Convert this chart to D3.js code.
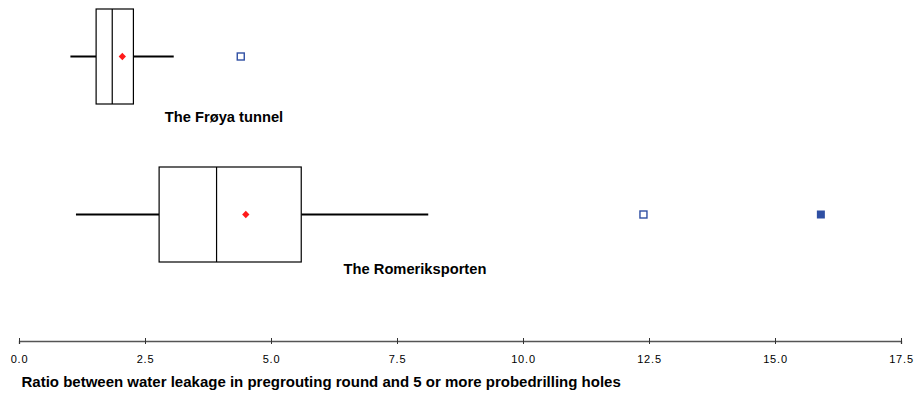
<!DOCTYPE html>
<html><head><meta charset="utf-8">
<script src="https://cdn.jsdelivr.net/npm/d3@7"></script>
<style>body{margin:0;background:#fff;} text{font-family:Arial,"Liberation Sans",sans-serif;}</style>
</head><body>
<svg id="c" width="915" height="394"></svg>
<script>
const categories = ["The Frøya tunnel", "The Romeriksporten"];
const whiskerLow = [1.02, 1.13];
const q1 = [1.53, 2.78];
const median = [1.85, 3.92];
const q3 = [2.27, 5.60];
const whiskerHigh = [3.07, 8.12];
const mean = [2.05, 4.50];
const outliersMild = [[4.40], [12.39]];
const outliersExtreme = [[], [15.91]];
const tickValues = [0, 2.5, 5, 7.5, 10, 12.5, 15, 17.5];
const axisTitle = "Ratio between water leakage in pregrouting round and 5 or more probedrilling holes";

const svg = d3.select("#c");
const x = d3.scaleLinear().domain([0, 17.5]).range([19, 901]);
const y = d3.scalePoint().domain(categories).range([56.5, 214.5]);
const boxH = 95;

const data = categories.map((c, i) => ({c, lo: whiskerLow[i], q1: q1[i], med: median[i], q3: q3[i], hi: whiskerHigh[i], mean: mean[i], mild: outliersMild[i], ext: outliersExtreme[i]}));

const g = svg.append("g");
const grp = g.selectAll("g.box").data(data).join("g").attr("class", "box");

grp.append("line").attr("x1", d => x(d.lo)).attr("x2", d => x(d.q1))
  .attr("y1", d => y(d.c)).attr("y2", d => y(d.c)).attr("stroke", "#000").attr("stroke-width", 2);
grp.append("line").attr("x1", d => x(d.q3)).attr("x2", d => x(d.hi))
  .attr("y1", d => y(d.c)).attr("y2", d => y(d.c)).attr("stroke", "#000").attr("stroke-width", 2);
grp.append("rect").attr("x", d => x(d.q1)).attr("width", d => x(d.q3) - x(d.q1))
  .attr("y", d => y(d.c) - boxH / 2).attr("height", boxH)
  .attr("fill", "#fff").attr("stroke", "#000").attr("stroke-width", 1.2);
grp.append("line").attr("x1", d => x(d.med)).attr("x2", d => x(d.med))
  .attr("y1", d => y(d.c) - boxH / 2).attr("y2", d => y(d.c) + boxH / 2)
  .attr("stroke", "#000").attr("stroke-width", 1.2);
grp.append("path")
  .attr("d", d3.symbol(d3.symbolDiamond2, 34))
  .attr("transform", d => `translate(${x(d.mean)},${y(d.c)})`)
  .attr("fill", "#ff1a1a");

grp.each(function(d) {
  const s = d3.select(this);
  s.selectAll("rect.mild").data(d.mild).join("rect").attr("class", "mild")
    .attr("x", v => x(v) - 3.5).attr("y", y(d.c) - 3.5).attr("width", 7).attr("height", 7)
    .attr("fill", "#fff").attr("stroke", "#2f4fa3").attr("stroke-width", 1.4);
  s.selectAll("rect.ext").data(d.ext).join("rect").attr("class", "ext")
    .attr("x", v => x(v) - 4).attr("y", y(d.c) - 4).attr("width", 8).attr("height", 8)
    .attr("fill", "#2f4fa3");
});

// category labels
const labelX = [224, 415];
const labelY = [122, 274];
grp.append("text").attr("x", (d, i) => labelX[i]).attr("y", (d, i) => labelY[i])
  .attr("text-anchor", "middle").attr("font-weight", "bold").attr("font-size", 14.7).text(d => d.c);

// axis
const ax = svg.append("g").attr("transform", "translate(0,341)")
  .call(d3.axisBottom(x).tickValues(tickValues).tickFormat(d3.format(".1f")).tickSizeOuter(0).tickSize(3));
ax.select(".domain").attr("stroke", "#555").attr("stroke-width", 1.3);
ax.selectAll(".tick line").attr("stroke", "#333").attr("y1", -3).attr("y2", 3);
ax.selectAll(".tick text").attr("font-size", 11).attr("letter-spacing", 0.8)
  .attr("font-family", "Arial, 'Liberation Sans', sans-serif").attr("fill", "#000")
  .attr("y", 22).attr("dy", 0);

svg.append("text").attr("x", 21.5).attr("y", 386.5).attr("font-weight", "bold").attr("font-size", 15)
  .text(axisTitle);
</script>
</body></html>
